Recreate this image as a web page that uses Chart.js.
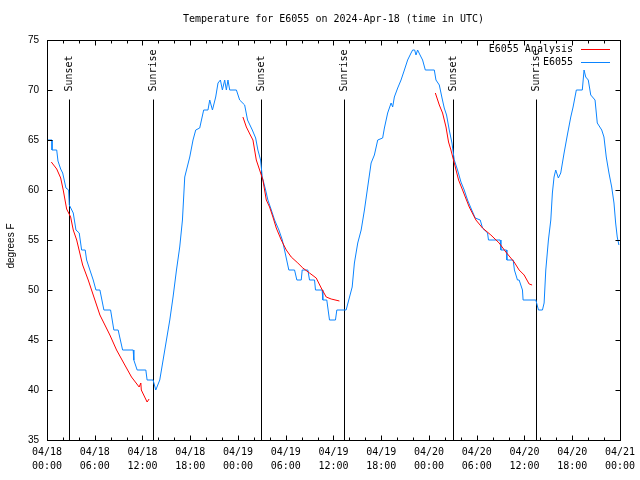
<!DOCTYPE html>
<html>
<head>
<meta charset="utf-8">
<script src="https://cdn.jsdelivr.net/npm/chart.js@4.4.1/dist/chart.umd.min.js"></script>
<style>
  html, body { margin: 0; padding: 0; background: #fff; }
  #wrap { width: 640px; height: 480px; }
</style>
</head>
<body>
<div id="wrap"><canvas id="tempChart" width="640" height="480"></canvas></div>
<script>
// hours since 04/18 00:00 UTC, observed temperature (deg F)
const obsHours = [0, 0.63, 0.63, 1.22, 1.38, 1.72, 1.97, 2.38, 2.72, 2.8, 3.3, 3.64, 4.05, 4.35, 4.8, 4.98, 5.39, 5.81, 6.15, 6.65,
  7.15, 7.99, 8.4, 8.94, 9.5, 10.83, 10.91, 11.33, 12.42, 12.58, 13.33, 13.67, 14.17, 14.59, 15.01, 15.43, 15.84, 16.27, 16.68, 17.02,
  17.31, 17.94, 18.35, 18.69, 19.19, 19.69, 20.23, 20.45, 20.79, 21.2, 21.49, 21.79, 22.04, 22.33, 22.54, 22.74, 22.96, 23.8, 24.21, 24.84,
  25.2, 25.8, 26.22, 26.5, 26.84, 27.05, 27.47, 27.76, 28.19, 28.6, 29.14, 29.57, 29.85, 30.39, 31.11, 31.4, 31.95, 32.07, 32.78, 32.99,
  33.62, 33.74, 34.58, 34.66, 35.16, 35.5, 36.25, 36.42, 37.59, 37.92, 38.35, 38.63, 39.05, 39.48, 39.89, 40.3, 40.73, 41.14, 41.56, 42.18,
  42.4, 42.81, 43.24, 43.44, 43.65, 44.07, 44.49, 44.91, 45.32, 45.75, 45.95, 46.2, 46.37, 46.57, 46.88, 47.2, 47.54, 48.67, 48.88, 49.3,
  49.64, 49.92, 50.21, 50.55, 50.89, 51.18, 51.59, 52.02, 52.43, 52.85, 53.27, 53.81, 54.44, 54.73, 55.36, 55.48, 56.95, 57.04, 57.74, 57.79,
  58.58, 58.74, 59.12, 59.33, 59.75, 59.83, 61.43, 61.76, 62.26, 62.47, 62.68, 63.01, 63.31, 63.51, 63.72, 63.93, 64.26, 64.56, 64.98, 65.39,
  65.82, 66.11, 66.52, 67.27, 67.49, 67.7, 68.02, 68.33, 68.87, 69.15, 69.71, 69.99, 70.28, 70.62, 70.96, 71.25, 71.46, 71.66, 71.87];
const obsTemps = [65, 65, 64, 64, 62.9, 62.1, 61.7, 60.2, 60, 58.5, 57.7, 56, 55.7, 54, 54, 53, 52, 51, 50, 50,
  48, 48, 46, 46, 44, 44, 43, 42, 42, 41, 41, 40, 41, 43, 45, 47, 49.3, 52, 54.3, 57,
  61.3, 63.3, 65, 66, 66.2, 68, 68, 69, 68, 69.3, 70.7, 71, 70, 71, 70, 71, 70, 70, 69, 68.5,
  67, 66, 65.2, 64, 63, 61.3, 60, 59, 58, 57, 56, 55, 54, 52, 52, 51, 51, 52, 52, 51,
  51, 50, 50, 49, 49, 47, 47, 48, 48, 49, 50.3, 52.7, 54.7, 56, 58, 60.3, 62.7, 63.5, 65, 65.2,
  66.2, 67.7, 68.7, 68.3, 69.3, 70.2, 71, 72, 73, 73.7, 74, 74, 73.5, 74, 73.5, 73, 72, 72, 71, 70.5,
  69.2, 68.2, 67.5, 66, 64.7, 63, 62, 60.8, 60, 59, 58.2, 57.2, 57, 56.2, 55.7, 55, 55, 54, 54, 53,
  53, 52, 51, 51, 50, 49, 49, 48, 48, 48.7, 52, 55, 57, 59.7, 61.3, 62, 61.2, 61.7, 63.7, 65.5,
  67.3, 68.3, 70, 70, 72, 71.3, 71, 69.5, 69, 66.7, 66, 65.3, 63.3, 61.7, 60.3, 58.7, 56.7, 55.3, 54.5];

// analysis series, null separates the three runs
const anaHours = [0.54, 1.22, 1.72, 2.04, 2.47, 2.97, 3.3, 3.73, 4.48, 5.18, 5.81, 6.65, 7.9, 8.74, 9.78, 10.62, 11.58, 11.79, 11.85, 12.58, 12.83,
  12.9,
  24.62, 25.05, 25.55, 25.88, 26.09, 26.3, 26.72, 27.13, 27.56, 27.97, 28.39, 28.81, 29.44, 30.07, 30.69, 31.52, 32.15, 32.99, 33.83, 34.46, 35.09, 35.71, 36.75,
  36.8,
  48.8, 49.3, 49.71, 50.14, 50.46, 50.76, 51.18, 51.72, 52.22, 53.06, 53.9, 54.73, 55.78, 56.82, 57.66, 58.7, 59.33, 59.96, 60.59, 60.96];
const anaTemps = [62.8, 62.1, 61.2, 60, 58.1, 57.3, 56, 55, 52.5, 51, 49.5, 47.5, 45.5, 44, 42.5, 41.3, 40.3, 40.7, 40.0, 38.8, 39.1,
  null,
  67.3, 66.3, 65.5, 65, 64, 63, 62, 61, 59, 58.3, 57.3, 56.2, 55, 54, 53.3, 52.7, 52.2, 51.7, 51.2, 50.2, 49.3, 49.1, 48.9,
  null,
  69.7, 68.5, 67.7, 66.3, 64.8, 64, 62.7, 61, 60, 58.3, 57, 56.2, 55.5, 54.7, 53.8, 52.8, 52, 51.5, 50.6, 50.5];

const sunHours = [2.8, 13.33, 26.88, 37.32, 50.99, 61.43];
const sunLabels = ['Sunset', 'Sunrise', 'Sunset', 'Sunrise', 'Sunset', 'Sunrise'];
const sunLineTop = 69.1;

const tickDays = ['04/18', '04/18', '04/18', '04/18', '04/19', '04/19', '04/19', '04/19', '04/20', '04/20', '04/20', '04/20', '04/21'];
const tickTimes = ['00:00', '06:00', '12:00', '18:00', '00:00', '06:00', '12:00', '18:00', '00:00', '06:00', '12:00', '18:00', '00:00'];

const seriesNames = ['E6055 Analysis', 'E6055'];
const seriesColors = ['#ff0000', '#0a84ff'];

const monoFont = "'DejaVu Sans Mono', monospace";
const sansFont = "'Liberation Sans', Arial, sans-serif";

function toPoints(xs, ys) {
    return xs.map((h, i) => ({ x: h, y: ys[i] }));
}

// gnuplot-like frame: box, inward ticks, sun markers, title, legend
const gnuFrame = {
    id: 'gnuFrame',
    beforeDatasetsDraw(chart) {
        const { ctx, chartArea: a, scales: { x, y } } = chart;
        ctx.save();
        ctx.strokeStyle = '#000';
        ctx.fillStyle = '#000';
        ctx.lineWidth = 1;
        ctx.font = '10px ' + monoFont;
        const top = Math.round(y.getPixelForValue(sunLineTop)) + 0.5;
        sunHours.forEach((h, i) => {
            const px = Math.round(x.getPixelForValue(h)) + 0.5;
            ctx.beginPath();
            ctx.moveTo(px, a.bottom);
            ctx.lineTo(px, top);
            ctx.stroke();
            ctx.save();
            ctx.translate(px, top - 8);
            ctx.rotate(-Math.PI / 2);
            ctx.textAlign = 'left';
            ctx.textBaseline = 'middle';
            ctx.fillText(sunLabels[i], 0, 0);
            ctx.restore();
        });
        ctx.restore();
    },
    afterDraw(chart) {
        const { ctx, chartArea: a, scales: { x, y } } = chart;
        const L = Math.round(a.left) + 0.5, R = Math.round(a.right) + 0.5;
        const T = Math.round(a.top) + 0.5, B = Math.round(a.bottom) + 0.5;
        ctx.save();
        ctx.strokeStyle = '#000';
        ctx.lineWidth = 1;
        ctx.strokeRect(L, T, R - L, B - T);

        ctx.beginPath();
        // x ticks: major every 6h, minor every 2h, on bottom and top
        for (let h = 0; h <= 72; h += 2) {
            const px = Math.round(x.getPixelForValue(h)) + 0.5;
            const len = h % 6 === 0 ? 5 : 3;
            ctx.moveTo(px, B); ctx.lineTo(px, B - len);
            ctx.moveTo(px, T); ctx.lineTo(px, T + len);
        }
        // y ticks on left and right
        for (let v = 35; v <= 75; v += 5) {
            const py = Math.round(y.getPixelForValue(v)) + 0.5;
            ctx.moveTo(L, py); ctx.lineTo(L + 5, py);
            ctx.moveTo(R, py); ctx.lineTo(R - 5, py);
        }
        ctx.stroke();

        // title
        ctx.fillStyle = '#000';
        ctx.font = '10px ' + monoFont;
        ctx.textAlign = 'center';
        ctx.textBaseline = 'middle';
        ctx.fillText('Temperature for E6055 on 2024-Apr-18 (time in UTC)', (a.left + a.right) / 2, 19);

        // y axis title
        ctx.save();
        ctx.translate(11, 246);
        ctx.rotate(-Math.PI / 2);
        ctx.font = '10px ' + sansFont;
        ctx.fillText('degrees F', 0, 0);
        ctx.restore();

        // legend
        ctx.font = '10px ' + monoFont;
        ctx.textAlign = 'right';
        seriesNames.forEach((name, i) => {
            const ly = 49 + i * 13;
            ctx.fillStyle = '#000';
            ctx.fillText(name, 573, ly);
            ctx.strokeStyle = seriesColors[i];
            ctx.beginPath();
            ctx.moveTo(581, ly + 0.5);
            ctx.lineTo(610, ly + 0.5);
            ctx.stroke();
        });
        ctx.restore();
    }
};

new Chart(document.getElementById('tempChart').getContext('2d'), {
    type: 'line',
    data: {
        datasets: [{
            label: seriesNames[0],
            data: toPoints(anaHours, anaTemps),
            borderColor: seriesColors[0],
            borderWidth: 1,
            pointRadius: 0,
            tension: 0,
            spanGaps: false,
            fill: false
        }, {
            label: seriesNames[1],
            data: toPoints(obsHours, obsTemps),
            borderColor: seriesColors[1],
            borderWidth: 1,
            pointRadius: 0,
            tension: 0,
            fill: false
        }]
    },
    options: {
        responsive: false,
        animation: false,
        events: [],
        layout: {
            padding: { left: 0, right: 19, top: 40, bottom: 0 }
        },
        plugins: {
            legend: { display: false },
            tooltip: { enabled: false },
            title: { display: false }
        },
        scales: {
            x: {
                type: 'linear',
                min: 0,
                max: 72,
                grid: { display: false, drawTicks: false },
                border: { display: false },
                afterFit(scale) { scale.height = 40; },
                ticks: {
                    stepSize: 6,
                    autoSkip: false,
                    maxRotation: 0,
                    padding: 5,
                    color: '#000',
                    font: { family: monoFont, size: 10, lineHeight: 1.4 },
                    callback: (v, i) => [tickDays[i], tickTimes[i]]
                }
            },
            y: {
                min: 35,
                max: 75,
                grid: { display: false, drawTicks: false },
                border: { display: false },
                afterFit(scale) { scale.width = 47; },
                ticks: {
                    stepSize: 5,
                    padding: 8,
                    color: '#000',
                    font: { family: sansFont, size: 10 }
                }
            }
        }
    },
    plugins: [gnuFrame]
});
</script>
</body>
</html>
